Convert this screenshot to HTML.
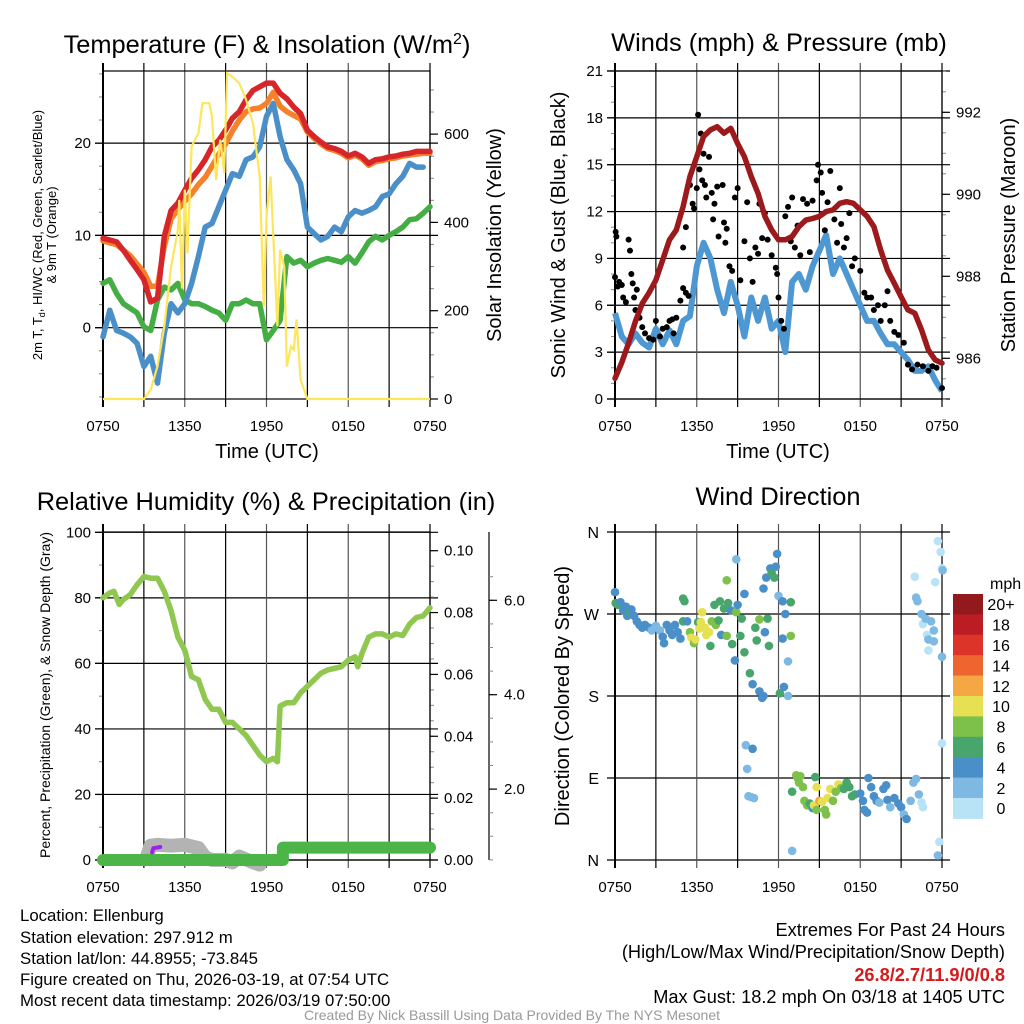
<!DOCTYPE html>
<html><head><meta charset="utf-8">
<style>
body{margin:0;background:#fff;}
svg{display:block;font-family:"Liberation Sans",Arial,sans-serif;}
</style></head>
<body>
<svg id="root" width="1024" height="1024" viewBox="0 0 1024 1024" xmlns="http://www.w3.org/2000/svg">
<rect width="1024" height="1024" fill="#fff"/>
<g id="p1"></g>
<g id="p2"></g>
<g id="p3"></g>
<g id="p4"></g>
<g id="txt" font-size="16.8" fill="#000">
<text x="267" y="53" font-size="25.4" text-anchor="middle">Temperature (F) &amp; Insolation (W/m<tspan font-size="16" dy="-9">2</tspan><tspan dy="9">)</tspan></text>
<text x="779" y="51" font-size="25.4" text-anchor="middle">Winds (mph) &amp; Pressure (mb)</text>
<text x="266" y="510" font-size="25.4" text-anchor="middle">Relative Humidity (%) &amp; Precipitation (in)</text>
<text x="778" y="505" font-size="25.4" text-anchor="middle">Wind Direction</text>
<text x="267" y="458" font-size="20" text-anchor="middle">Time (UTC)</text>
<text x="778" y="458" font-size="20" text-anchor="middle">Time (UTC)</text>
<text transform="translate(42,235) rotate(-90)" font-size="13" text-anchor="middle">2m T, T<tspan font-size="9" dy="3">d</tspan><tspan dy="-3">, HI/WC (Red, Green, Scarlet/Blue)</tspan></text>
<text transform="translate(56,235) rotate(-90)" font-size="13" text-anchor="middle">&amp; 9m T (Orange)</text>
<text transform="translate(501,235) rotate(-90)" font-size="20" text-anchor="middle">Solar Insolation (Yellow)</text>
<text transform="translate(565,235) rotate(-90)" font-size="20" text-anchor="middle">Sonic Wind &amp; Gust (Blue, Black)</text>
<text transform="translate(1015,235) rotate(-90)" font-size="20" text-anchor="middle">Station Pressure (Maroon)</text>
<text transform="translate(50,695) rotate(-90)" font-size="14" text-anchor="middle">Percent, Precipitation (Green), &amp; Snow Depth (Gray)</text>
<text transform="translate(569,696) rotate(-90)" font-size="20" text-anchor="middle">Direction (Colored By Speed)</text>
<g>
<text x="20" y="921">Location: Ellenburg</text>
<text x="20" y="943">Station elevation: 297.912 m</text>
<text x="20" y="964">Station lat/lon: 44.8955; -73.845</text>
<text x="20" y="985">Figure created on Thu, 2026-03-19, at 07:54 UTC</text>
<text x="20" y="1006">Most recent data timestamp: 2026/03/19 07:50:00</text>
</g>
<g text-anchor="end" font-size="18.2">
<text x="1005" y="936">Extremes For Past 24 Hours</text>
<text x="1005" y="958">(High/Low/Max Wind/Precipitation/Snow Depth)</text>
<text x="1005" y="981" fill="#d7191c" font-weight="bold">26.8/2.7/11.9/0/0.8</text>
<text x="1005" y="1003">Max Gust: 18.2 mph On 03/18 at 1405 UTC</text>
</g>
<text x="512" y="1020" font-size="14" fill="#999" text-anchor="middle">Created By Nick Bassill Using Data Provided By The NYS Mesonet</text>
</g>
</svg>
<script>
// ---------- data ----------
const xTickLabels = ["0750","1350","1950","0150","0750"];
const tHalf = [0,0.5,1,1.5,2,2.5,3,3.5,4,4.5,5,5.5,6,6.5,7,7.5,8,8.5,9,9.5,10,10.5,11,11.5,12,12.5,13,13.5,14,14.5,15,15.5,16,16.5,17,17.5,18,18.5,19,19.5,20,20.5,21,21.5,22,22.5,23,23.5,24];
const temp2m = [9.7,9.5,9.3,8.4,7.3,6.3,5.2,2.8,3.2,9.9,12.7,13.5,14.9,16.2,17.1,18.2,19.6,20.3,21.4,22.7,23.4,24.7,25.7,26.1,26.5,26.5,25.4,24.8,23.9,23.2,21.4,20.7,20.1,19.6,19.4,19.1,18.6,18.9,18.5,17.8,18.2,18.3,18.5,18.6,18.8,18.9,19.1,19.1,19.1];
const temp9m = [9.4,9.2,9.0,8.4,7.8,6.9,6.0,4.5,4.5,8.8,11.8,12.8,13.7,14.5,15.5,16.3,17.5,18.8,19.9,21.3,22.5,23.4,23.7,23.8,24.3,25.5,24.0,23.4,23.0,22.6,21.2,20.5,19.9,19.4,19.2,18.9,18.4,18.7,18.3,17.6,18.0,18.1,18.3,18.4,18.6,18.7,18.8,18.9,18.9];
const hiwc = [-1,1.9,-0.3,-0.6,-1,-1.7,-4.2,-3.1,-6,-0.6,2.6,1.6,2.6,4.8,7.7,10.9,11.3,13.1,14.9,16.7,16.4,18.2,18.5,19.6,22.9,24.3,20.7,18.2,17.1,15.6,10.9,10.2,9.5,9.9,10.9,10.4,12,12.7,12.4,12.7,13.1,14.2,14.5,15.6,16.4,17.8,17.4,17.4,null];
const dewpt = [4.8,5.2,3.7,2.6,2.1,1.6,0.1,-0.3,3,4.4,4.1,4.8,3,2.6,2.6,2.3,1.9,1.6,0.8,2.6,2.6,3,2.6,2.6,-1.3,-0.3,0.8,7.7,7,7.3,6.6,7,7.3,7.5,7.3,7.1,7.7,7,8.1,9.3,9.9,9.5,10,10.4,10.9,11.7,11.8,12.4,13.1];
const solarT = [0,3,3.5,4,4.5,5,5.5,5.6,5.8,6,6.2,6.5,7,7.3,7.8,8,8.3,8.6,8.9,9.1,9.5,10,10.5,11,11.5,11.8,12,12.3,12.6,12.8,13,13.3,13.5,13.8,14,14.2,14.5,15,24];
const solarW = [0,0,21,74,165,300,383,451,250,474,330,572,602,670,670,640,496,587,512,738,730,715,678,625,504,210,414,504,300,165,338,300,74,119,112,180,44,0,0];
const tempTicks = [0,10,20];
const solarTicks = [0,200,400,600];

const windSpd = [5.5,4,3.5,4.2,3.6,3.3,4.5,3.5,4.4,3.5,5,5.3,8.5,10,9,7,5.5,7.5,6,4,6.5,5,6.5,4.5,5,3,7.5,8,7,8.5,9.5,10.5,8,9,8,7,6,5,5,4.2,3.5,3.5,3,2.5,1.8,1.8,2.1,1.2,0.5];
const pressure = [985.51,985.9,986.37,986.9,987.34,987.6,987.91,988.4,988.89,989.13,989.7,990.43,990.92,991.41,991.57,991.65,991.49,991.61,991.24,990.92,990.43,990.02,989.46,989.13,988.89,988.89,988.97,989.21,989.37,989.41,989.46,989.58,989.62,989.78,989.82,989.78,989.62,989.46,989.21,988.64,988.15,987.83,987.5,987.18,987.1,986.69,986.2,985.96,985.88];
const gustT = [0.05,0.1,0,0.2,0.3,0.5,0.6,0.8,1.0,1.1,1.2,1.3,1.4,1.6,1.5,1.8,2.0,2.2,2.5,2.8,3.0,3.3,3.5,3.8,4.0,4.2,4.5,4.3,4.8,5.0,5.2,5.4,5.0,5.2,5.5,5.7,5.8,6.0,6.1,6.3,6.2,6.4,6.5,6.6,6.9,6.7,7.1,7.3,7.5,7.2,7.6,7.9,8.0,8.2,8.1,8.4,8.6,8.8,9.0,9.2,9.5,9.7,9.9,10.1,10.3,10.5,10.6,10.8,11.0,11.2,11.5,11.8,11.9,12.0,12.2,12.4,12.5,12.7,12.9,13.0,13.2,13.4,13.6,13.8,14.1,14.3,14.5,14.8,14.9,15.1,15.2,15.4,15.6,15.8,16.1,16.3,16.5,16.6,16.8,17.0,17.2,17.4,17.6,18.0,18.3,18.5,18.8,19.0,19.3,19.5,19.8,20.0,20.2,20.5,20.8,21.2,21.5,21.8,22.2,22.6,23.0,23.3,23.6,24.0];
const gustV = [10.7,10.4,7.8,7.2,7.5,7.3,6.5,6.2,10.2,9.5,8.0,7.4,6.5,7.0,5.7,5.2,4.6,4.2,3.9,3.8,5.0,4.0,4.5,4.6,5.0,5.1,5.2,4.2,6.3,7.1,6.8,6.6,9.7,11.0,13.7,12.5,12.2,13.5,18.2,17.0,14.7,14.0,15.7,13.7,15.5,12.9,13.2,12.5,13.6,11.5,10.4,13.7,11.3,10.9,10.0,8.5,8.2,12.9,13.5,7.6,10.1,12.6,9.0,7.5,9.7,9.3,12.5,10.3,11.9,10.2,9.2,8.4,8.0,6.5,5.0,4.5,11.7,12.3,10.1,12.9,9.7,11.1,9.2,12.8,12.5,9.4,12.7,14.0,15.0,14.5,13.2,10.8,12.6,14.6,11.5,10.0,13.5,11.2,9.7,10.3,11.9,8.5,9.0,8.2,6.8,6.5,6.5,5.7,6.0,5.0,6.0,6.9,5.0,4.3,4.1,3.6,2.2,1.9,2.2,2.1,1.8,2.1,2.0,0.7];
const windTicks = [0,3,6,9,12,15,18,21];
const presTicks = [986,988,990,992];

const rhT = [0,0.5,0.8,1.2,1.5,2,2.5,3,3.5,4,4.5,5,5.5,6,6.5,7,7.5,8,8.5,9,9.5,10,10.5,11,11.5,12,12.5,12.8,13,13.5,14,14.5,15,15.5,16,16.5,17,17.5,18,18.5,18.7,19,19.5,20,20.5,21,21.5,22,22.5,23,23.5,24];
const rhV = [80,81.5,82,78,79.5,81,84,86.5,86,86,82,76,68,64,56,55,49,46,46,42,42,40,38,35,32,30,31,30,47,48,48,51,53,55,57,58,58.5,59,61,62,59,63,68,69,69,68,69,68.5,72,74,74.5,77];
const precipT = [0,13.2,13.2,24];
const precipV = [0,0,0.004,0.004];
const snowT = [3.2,3.5,4,5,6,7,7.5,8,9,9.5,10,11,11.5];
const snowV = [0.55,0.8,0.82,0.8,0.82,0.75,0.55,0.5,0.5,0.45,0.57,0.45,0.4];
const hourlyPT = [3.6,3.7,4.2];
const hourlyPV = [0.0025,0.0038,0.0042];
const rhTicks = [0,20,40,60,80,100];
const precipTicks = [0,0.02,0.04,0.06,0.08,0.10];
const snowTicks = [2,4,6];

const dirT = [0,0.05,0.2,0.4,0.6,0.8,0.9,1.1,1.2,1.4,1.6,1.8,2.0,2.2,2.5,2.7,3.0,3.3,3.5,3.6,3.8,4.0,4.2,4.4,4.6,4.8,5.0,5.0,5.1,5.3,5.5,5.6,5.8,5.9,6.1,6.2,6.3,6.4,6.6,6.7,6.9,7.0,7.1,7.3,7.4,7.6,7.7,7.8,8.0,8.2,8.2,8.3,8.5,8.6,8.8,8.9,8.9,9.0,9.2,9.3,9.5,9.5,9.6,9.7,9.8,9.9,10.0,10.1,10.1,10.2,10.3,10.4,10.6,10.6,10.8,10.9,10.9,11.0,11.1,11.2,11.3,11.4,11.5,11.7,11.8,11.9,12.1,12.0,12.3,12.3,12.5,12.7,12.4,12.7,12.9,12.9,13.0,13.0,13.3,13.4,13.5,13.6,13.8,13.9,14.1,14.3,14.5,14.6,14.7,14.8,14.8,15.0,15.2,15.5,15.4,15.6,15.8,16.0,16.2,16.4,16.6,16.8,17.0,17.2,17.4,17.6,18.0,18.2,18.3,18.5,18.6,18.8,19.0,19.2,19.4,19.7,19.9,20.0,20.2,20.5,20.8,21.0,21.2,21.4,21.7,21.9,22.1,22.3,22.5,22.6,22.0,22.1,22.2,22.5,22.6,22.8,22.9,23.0,23.2,23.4,23.0,23.4,23.5,23.7,23.8,23.7,23.9,24.0,24.05,24.0,24.0];
const dirV = [294,282,280,283,274,278,268,272,275,268,262,258,255,258,255,252,257,252,245,238,258,252,247,258,250,243,262,287,284,262,250,244,238,242,261,254,261,272,255,247,250,235,262,280,258,263,284,247,276,246,307,282,274,237,219,330,272,280,246,265,228,292,126,100,70,205,69,122,193,68,255,241,185,264,178,180,298,250,310,265,235,320,315,310,322,336,183,290,284,243,270,180,190,218,246,283,10,75,93,90,85,92,80,65,60,62,57,60,91,80,55,65,64,50,55,68,78,65,75,83,79,78,85,80,70,72,73,65,55,52,90,80,70,65,63,78,82,66,58,68,62,58,50,45,65,85,89,72,63,58,311,288,284,270,259,265,247,242,262,252,230,240,305,5,20,350,338,320,318,223,128];
const dirSpd = [5,7,7,5,5,5,5,7,5,5,5,5,5,5,5,3,3,3,5,5,5,5,5,5,5,5,7,7,7,5,9,11,9,11,7,11,11,11,11,11,11,7,9,7,9,7,7,5,7,9,9,7,5,7,5,3,9,5,7,7,7,5,3,3,3,7,3,5,5,3,7,7,5,9,5,5,5,5,5,7,7,5,7,7,5,5,7,3,5,5,5,3,5,3,9,7,3,7,9,9,9,9,9,9,9,7,5,11,7,11,9,13,11,9,9,11,11,9,9,11,9,7,7,7,7,7,5,5,5,5,5,5,5,5,3,5,5,5,3,5,5,5,3,5,3,3,3,3,1,1,1,3,3,3,1,3,1,3,3,3,1,3,1,3,1,1,1,1,3,3,1];
const dirLabels = ["N","E","S","W","N"];
const dirTicks = [0,90,180,270,360];
const barLabels = ["0","2","4","6","8","10","12","14","16","18","20+"];
const barColors = ["#b8e3f7","#7db9e3","#4a8fc7","#48a56c","#7dc04a","#e6e052","#f5a744","#ef6530","#dc3429","#bc1d25","#921a1d"];

// ---------- helpers ----------
const NS="http://www.w3.org/2000/svg";
function mk(parent,tag,attrs){const e=document.createElementNS(NS,tag);for(const k in attrs)e.setAttribute(k,attrs[k]);parent.appendChild(e);return e;}
function pathD(xs,ys,sx,sy){let d="",pen=false;for(let i=0;i<xs.length;i++){if(ys[i]===null||ys[i]===undefined){pen=false;continue;}d+=(pen?"L":"M")+sx(xs[i]).toFixed(1)+","+sy(ys[i]).toFixed(1);pen=true;}return d;}
function frame(g,x0,x1,y0,y1,name){
  for(let h=0;h<=24;h+=3){const x=x0+(x1-x0)*h/24;
    const l=mk(g,"line",{x1:x,x2:x,y1:y0-8,y2:y1+8,stroke:(h%6==0&&h>0&&h<24)?"#555":"#000","stroke-width":h==0?2:1.2});
    
    
  }
  for(let i=0;i<xTickLabels.length;i++){const x=x0+(x1-x0)*i/4;
    const t=mk(g,"text",{x:x,y:y1+32,"font-size":15,"text-anchor":"middle"});t.textContent=xTickLabels[i];
    
    
  }
  const r=mk(g,"rect",{x:x0,y:y0,width:x1-x0,height:y1-y0,fill:"none",stroke:"#000","stroke-width":1.2});
  
  
}
function yAxis(g,ticks,labels,sy,x0,x1,side,minorStep,lo,hi,grid,name,fmt){
  for(let v=lo;v<=hi+1e-9;v+=minorStep){const y=sy(v);
    if(side=="left")mk(g,"line",{x1:x0-4,x2:x0,y1:y,y2:y,stroke:"#888","stroke-width":1});
    else mk(g,"line",{x1:x1,x2:x1+4,y1:y,y2:y,stroke:"#888","stroke-width":1});}
  for(let i=0;i<ticks.length;i++){const y=sy(ticks[i]);
    if(grid){const gl=mk(g,"line",{x1:x0-8,x2:x1+(side=="left"?8:0),y1:y,y2:y,stroke:"#000","stroke-width":1.2});
      
      }
    if(side=="left")mk(g,"line",{x1:x0-8,x2:x0,y1:y,y2:y,stroke:"#000","stroke-width":1.2});
    else mk(g,"line",{x1:x1,x2:x1+8,y1:y,y2:y,stroke:"#000","stroke-width":1.2});
    const t=mk(g,"text",{x:side=="left"?x0-12:x1+14,y:y+5,"font-size":15,"text-anchor":side=="left"?"end":"start"});
    t.textContent=labels?labels[i]:(fmt?fmt(ticks[i]):ticks[i]);
    
    
  }
}

// ---------- panel 1 ----------
(function(){
const g=document.getElementById("p1");const x0=103,x1=430,y0=71,y1=399;
const sx=t=>x0+(x1-x0)*t/24;
const sy=v=>327.7-v*9.23;
const sw=w=>399-w*0.4415;
yAxis(g,tempTicks,null,sy,x0,x1,"left",2.5,-7.5,27.5,true,"temp-axis");
yAxis(g,solarTicks,null,sw,x0,x1,"right",50,0,700,false,"solar-axis");
frame(g,x0,x1,y0,y1,"p1");
const defs=[[dewpt,"#44ae44","dewpoint-line"],[hiwc,"#4a8fc8","heat-index-wind-chill-line"],[temp9m,"#f6812b","temp-9m-line"],[temp2m,"#d7262a","temp-2m-line"]];
for(const d of defs){const p=mk(g,"path",{d:pathD(tHalf,d[0],sx,sy),fill:"none",stroke:d[1],"stroke-width":5.5,"stroke-linejoin":"round","stroke-linecap":"round"});
  
  }
const s=mk(g,"path",{d:pathD(solarT,solarW,sx,sw),fill:"none",stroke:"#fde65a","stroke-width":2.2});


})();

// ---------- panel 2 ----------
(function(){
const g=document.getElementById("p2");const x0=615,x1=942,y0=71,y1=399;
const sx=t=>x0+(x1-x0)*t/24;
const sy=v=>399-v*15.62;
const sp=p=>358.3-(p-986)*41;
yAxis(g,windTicks,null,sy,x0,x1,"left",1,0,21,true,"wind-axis");
yAxis(g,presTicks,null,sp,x0,x1,"right",0.5,984.5,993,false,"pressure-axis");
frame(g,x0,x1,y0,y1,"p2");
const w=mk(g,"path",{d:pathD(tHalf,windSpd,sx,sy),fill:"none",stroke:"#4d97d2","stroke-width":6,"stroke-linejoin":"round"});


for(let i=0;i<gustT.length;i++){const c=mk(g,"circle",{cx:sx(gustT[i]),cy:sy(gustV[i]),r:3,fill:"#000"});
  
  }
const p=mk(g,"path",{d:pathD(tHalf,pressure,sx,sp),fill:"none",stroke:"#9c1a1c","stroke-width":5.5,"stroke-linejoin":"round","stroke-linecap":"round"});


})();

// ---------- panel 3 ----------
(function(){
const g=document.getElementById("p3");const x0=103,x1=430,y0=532,y1=860;
const sx=t=>x0+(x1-x0)*t/24;
const sy=v=>860-v*3.277;
const sp=p=>860-p*3093;
const ss=s=>883.5-s*47.2;
yAxis(g,rhTicks,null,sy,x0,x1,"left",10,0,100,true,"rh-axis");
yAxis(g,precipTicks,null,sp,x0,x1,"right",0.005,0,0.1,false,"precip-axis",v=>v.toFixed(2));
const ax=mk(g,"line",{x1:489,x2:489,y1:532,y2:860,stroke:"#000","stroke-width":1.2});


for(let v=0.5;v<=6.9;v+=0.5){mk(g,"line",{x1:489,x2:493,y1:ss(v),y2:ss(v),stroke:"#888"});}
for(const v of snowTicks){mk(g,"line",{x1:489,x2:497,y1:ss(v),y2:ss(v),stroke:"#000","stroke-width":1.2});
  const t=mk(g,"text",{x:504,y:ss(v)+5,"font-size":15});t.textContent=v.toFixed(1);
  
  }
frame(g,x0,x1,y0,y1,"p3");
const sn=mk(g,"path",{d:pathD(snowT,snowV,sx,ss),fill:"none",stroke:"#b3b3b3","stroke-width":14,"stroke-linejoin":"round","stroke-linecap":"round"});


const pr=mk(g,"path",{d:pathD(precipT,precipV,sx,sp),fill:"none",stroke:"#4bb548","stroke-width":12,"stroke-linejoin":"round","stroke-linecap":"round"});


const hp=mk(g,"path",{d:pathD(hourlyPT,hourlyPV,sx,sp),fill:"none",stroke:"#a020f0","stroke-width":4,"stroke-linecap":"round"});


const rh=mk(g,"path",{d:pathD(rhT,rhV,sx,sy),fill:"none",stroke:"#8fc750","stroke-width":5.5,"stroke-linejoin":"round","stroke-linecap":"round"});


})();

// ---------- panel 4 ----------
(function(){
const g=document.getElementById("p4");const x0=615,x1=942,y0=532,y1=860;
const sx=t=>x0+(x1-x0)*t/24;
const sy=d=>860-d*0.9111;
for(let i=0;i<dirTicks.length;i++){const y=sy(dirTicks[i]);
  const l=mk(g,"line",{x1:x0-8,x2:x1+8,y1:y,y2:y,stroke:"#000","stroke-width":1.2});
  
  
  const t=mk(g,"text",{x:x0-16,y:y+6,"font-size":16,"text-anchor":"end"});t.textContent=dirLabels[i];
  
  }
for(let h=0;h<=24;h+=3){const x=sx(h);
  const l=mk(g,"line",{x1:x,x2:x,y1:y0-8,y2:y1+8,stroke:(h%6==0&&h>0&&h<24)?"#555":"#000","stroke-width":h==0?2:1.2});
  
  }
for(let i=0;i<xTickLabels.length;i++){const t=mk(g,"text",{x:sx(i*6),y:y1+32,"font-size":15,"text-anchor":"middle"});t.textContent=xTickLabels[i];
  
  }
const bin=s=>Math.min(10,Math.max(0,Math.floor(s/2)));
for(let i=0;i<dirT.length;i++){const c=mk(g,"circle",{cx:sx(dirT[i]),cy:sy(dirV[i]),r:4.3,fill:barColors[bin(dirSpd[i])]});
  
  }
const bx=953,bw=30,btop=594,bh=20.4;
const m=mk(g,"text",{x:990,y:589,"font-size":16});m.textContent="mph";


for(let i=0;i<barColors.length;i++){const k=barColors.length-1-i;const y=btop+i*bh;
  const r=mk(g,"rect",{x:bx,y:y,width:bw,height:bh+0.5,fill:barColors[k]});
  
  
  const t=mk(g,"text",{x:1001,y:y+bh/2+6,"font-size":16,"text-anchor":"middle"});t.textContent=barLabels[k];
  
  }
})();
</script>
</body></html>
